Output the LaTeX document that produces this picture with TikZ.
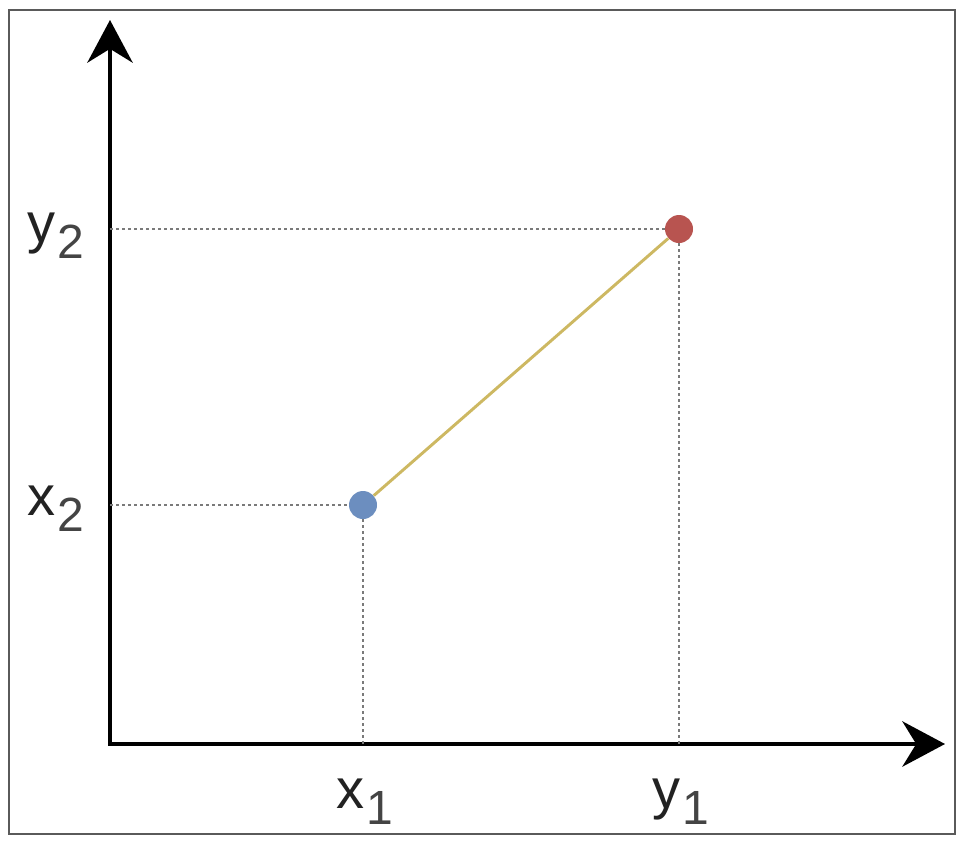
\documentclass[tikz,border=0pt]{standalone}
\usepackage{fontspec}
\setmainfont{Liberation Sans}
\usetikzlibrary{arrows.meta}
\definecolor{bordgray}{HTML}{5A5A5A}
\definecolor{ptblue}{HTML}{6C8EBF}
\definecolor{ptred}{HTML}{B85450}
\definecolor{segcol}{HTML}{CDB862}
\definecolor{guidegray}{HTML}{7A7A7A}
\definecolor{txtmain}{HTML}{222222}
\definecolor{txtsub}{HTML}{444444}
\newcommand\axlab[2]{\fontsize{42}{42}\selectfont\color{txtmain}#1\kern1.5pt\raisebox{-12pt}{\fontsize{36}{36}\selectfont\color{txtsub}#2}}
\begin{document}
\begin{tikzpicture}[x=0.75pt,y=-0.75pt,
  axisline/.style={line width=3pt, line join=miter, {Stealth[length=32pt,width=34pt]}-{Stealth[length=32pt,width=34pt]}},
  guideline/.style={draw=guidegray, line width=1pt, dash pattern=on 2pt off 2.5pt},
  ptnode/.style={circle, inner sep=0pt, minimum size=21pt},
  lbl/.style={inner sep=0pt, anchor=base west},
  segline/.style={draw=segcol, line width=2.2pt}]
\useasboundingbox (0,0) rectangle (970,846);
\draw[bordgray, line width=1.5pt] (9,10) rectangle (955,834);
% axes
\coordinate (O) at (110,744);
\coordinate (ytip) at (110,20);
\coordinate (xtip) at (945,744);
\draw[axisline] (ytip) -- (O) -- (xtip);
% projection feet
\coordinate (Ay) at (110,505);
\coordinate (Ax) at (363,744);
\coordinate (By) at (110,229);
\coordinate (Bx) at (679,744);
% points
\node[ptnode, fill=ptblue] (A) at (363,505) {};
\node[ptnode, fill=ptred] (B) at (679,229) {};
\draw[guideline] (Ay) -- (A);
\draw[guideline] (A) -- (Ax);
\draw[guideline] (By) -- (B);
\draw[guideline] (B) -- (Bx);
\draw[segline] (A) -- (B);
% labels
\node[lbl] (ly2) at (27,242) {\axlab{y}{2}};
\node[lbl] (lx2) at (27,515) {\axlab{x}{2}};
\node[lbl] (lx1) at (336,808) {\axlab{x}{1}};
\node[lbl] (ly1) at (652,808) {\axlab{y}{1}};
\end{tikzpicture}
\end{document}
